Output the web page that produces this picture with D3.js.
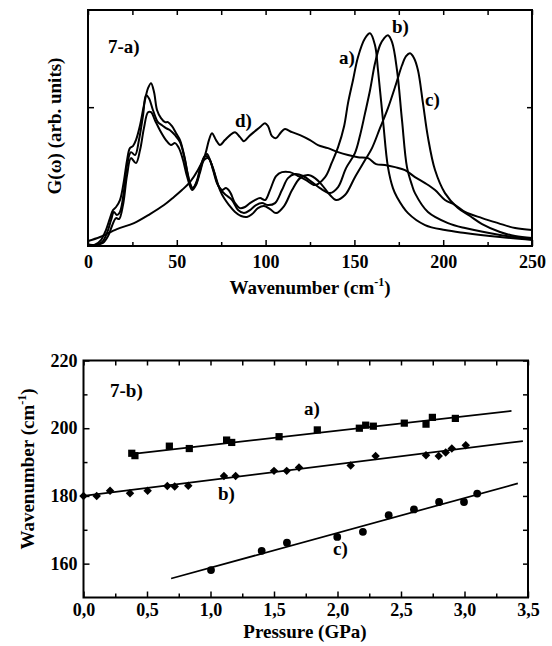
<!DOCTYPE html>
<html>
<head>
<meta charset="utf-8">
<script src="https://cdn.jsdelivr.net/npm/d3@7"></script>
<style>
  body { margin: 0; background: #fff; }
  svg { display: block; }
  text { font-family: "Liberation Serif", "Times New Roman", serif; font-weight: bold; fill: #000; }
</style>
</head>
<body>
<div id="chart"></div>
<script>
// ---- panel 7-a : G(w) curves, [wavenumber, G] pairs
const curveA = [[0,0.01],[3.9,0.01],[7.3,0.043],[10.1,0.115],[12.4,0.201],[14.1,0.259],[15.8,0.281],[18,0.331],[20.3,0.475],[22,0.619],[23.6,0.705],[25.3,0.719],[27,0.763],[29.3,0.87],[31.5,1.014],[33.8,1.137],[35.5,1.173],[37.2,1.108],[38.9,0.978],[41.1,0.921],[43.4,0.892],[45,0.892],[47.3,0.863],[49.6,0.813],[51.8,0.763],[54.1,0.655],[56.3,0.511],[58.6,0.417],[60.8,0.446],[63.1,0.547],[65.3,0.633],[67,0.662],[68.7,0.619],[71,0.532],[73.2,0.439],[75.5,0.403],[77.7,0.417],[80,0.388],[82.8,0.309],[85.6,0.273],[88.4,0.281],[91.2,0.309],[94,0.331],[96.9,0.345],[99.7,0.331],[102.5,0.403],[105.9,0.504],[109.2,0.532],[113.7,0.532],[118.3,0.504],[122.8,0.475],[127.8,0.439],[133.5,0.496],[137.4,0.604],[140.8,0.712],[144.2,0.863],[146.4,1.029],[149.2,1.194],[152,1.36],[156,1.496],[158.8,1.532],[161.6,1.446],[163.3,1.266],[166.1,0.906],[168.9,0.568],[171.7,0.417],[174,0.352],[180.2,0.237],[189.8,0.151],[201,0.115],[212.3,0.094],[232,0.065],[250,0.043]];
const curveB = [[0,0.007],[3.9,0.007],[7.9,0.029],[10.7,0.094],[13,0.187],[14.6,0.245],[16.3,0.223],[18,0.245],[20.3,0.403],[22,0.583],[24.2,0.676],[26.5,0.655],[28.7,0.763],[31,0.942],[32.7,1.086],[34.3,1.065],[36.6,0.978],[39.4,0.892],[41.7,0.87],[43.9,0.849],[46.2,0.834],[49,0.798],[51.8,0.748],[54.6,0.619],[56.9,0.475],[59.1,0.417],[61.4,0.475],[63.6,0.583],[65.9,0.647],[68.1,0.633],[70.4,0.547],[72.6,0.453],[74.9,0.403],[77.7,0.367],[81.1,0.331],[84.5,0.259],[87.8,0.237],[91.2,0.259],[94.6,0.295],[98,0.309],[101.4,0.295],[105.3,0.309],[109.2,0.403],[112.6,0.489],[116.6,0.518],[121.1,0.504],[126.1,0.46],[130.6,0.417],[136.3,0.381],[140.8,0.424],[145.3,0.561],[150.3,0.669],[153.2,0.798],[156,0.957],[158.8,1.122],[161.6,1.316],[164.4,1.446],[166.7,1.496],[168.9,1.518],[171.2,1.468],[174,1.266],[176.8,0.906],[179.6,0.568],[182.4,0.439],[184.1,0.381],[191.4,0.245],[202.7,0.165],[212.3,0.129],[232,0.079],[250,0.05]];
const curveC = [[0,0],[4.5,0.007],[8.4,0.022],[11.3,0.072],[13.5,0.144],[15.8,0.201],[17.5,0.194],[19.7,0.295],[22,0.511],[24.2,0.633],[27,0.597],[29.3,0.691],[31.5,0.849],[33.8,0.964],[35.5,0.964],[37.7,0.906],[40.5,0.834],[43.9,0.763],[46.7,0.727],[49,0.741],[51.2,0.705],[53.5,0.619],[55.7,0.504],[58.6,0.403],[60.8,0.439],[63.1,0.532],[65.3,0.619],[67.6,0.633],[69.8,0.583],[72.1,0.489],[74.3,0.403],[76.6,0.345],[79.4,0.295],[82.8,0.245],[86.2,0.216],[89.5,0.209],[92.4,0.23],[95.7,0.273],[99.1,0.288],[102.5,0.266],[105.9,0.237],[110.4,0.288],[114.9,0.403],[119.4,0.489],[123.9,0.511],[127.8,0.489],[131.8,0.439],[136.3,0.367],[139.7,0.331],[144.7,0.367],[150.3,0.496],[156,0.619],[159.9,0.705],[164.4,0.849],[168.9,0.993],[173.4,1.165],[176.8,1.302],[179.1,1.367],[181.3,1.388],[183.6,1.353],[185.8,1.266],[188.6,1.029],[191.4,0.784],[195.4,0.547],[201,0.381],[208.3,0.273],[215.1,0.216],[221.9,0.158],[232,0.101],[240.5,0.072],[250,0.058]];
const curveD = [[0,0.036],[6.8,0.065],[16.3,0.122],[25.9,0.165],[34.9,0.23],[42.8,0.295],[48.4,0.353],[52.9,0.403],[57.4,0.46],[61.9,0.547],[65.9,0.655],[68.1,0.763],[69.8,0.813],[72.1,0.763],[74.3,0.727],[77.1,0.763],[80,0.799],[82.8,0.82],[85.6,0.784],[87.8,0.755],[90.7,0.791],[94,0.827],[97.4,0.863],[99.7,0.885],[101.4,0.863],[103.6,0.791],[105.9,0.777],[108.7,0.82],[110.9,0.842],[114.9,0.82],[119.4,0.799],[125,0.763],[129.5,0.727],[135.1,0.705],[140.8,0.676],[146.4,0.655],[152,0.64],[157.7,0.633],[162.2,0.59],[167.2,0.583],[172.9,0.568],[178.5,0.547],[184.1,0.496],[189.8,0.453],[195.4,0.403],[201,0.331],[206.7,0.295],[212.3,0.245],[221.9,0.201],[230.9,0.165],[240.5,0.129],[250,0.115]];
const topXTicks = [0, 50, 100, 150, 200, 250];
const topXMinor = [25, 75, 125, 175, 225];
const topYTicks = [1];

// ---- panel 7-b : mode frequency vs pressure
const pressA = [0.38, 0.405, 0.676, 0.833, 1.127, 1.167, 1.54, 1.841, 2.172, 2.222, 2.282, 2.526, 2.697, 2.747, 2.928];
const waveA  = [192.6, 191.9, 194.7, 194.0, 196.5, 195.8, 197.5, 199.5, 200.0, 200.9, 200.6, 201.5, 201.2, 203.2, 202.9];
const pressB = [0.0, 0.104, 0.209, 0.366, 0.505, 0.66, 0.718, 0.825, 1.106, 1.198, 1.5, 1.6, 1.697, 2.104, 2.30, 2.697, 2.797, 2.852, 2.90, 3.01];
const waveB  = [180.0, 180.0, 181.5, 180.8, 181.5, 182.9, 182.8, 183.0, 185.9, 185.9, 187.4, 187.4, 188.4, 189.0, 191.8, 192.0, 191.8, 192.8, 194.0, 195.0];
const pressC = [1.004, 1.403, 1.602, 1.998, 2.20, 2.403, 2.602, 2.80, 2.996, 3.10];
const waveC  = [158.1, 163.8, 166.2, 167.9, 169.4, 174.3, 176.0, 178.2, 178.2, 180.7];
// linear fits (end points)
const fitA = [[0.39, 192.4], [3.37, 205.1]];
const fitB = [[0.0, 180.0], [3.46, 196.2]];
const fitC = [[0.69, 155.6], [3.42, 183.7]];
const botXTicks = [0, 0.5, 1, 1.5, 2, 2.5, 3, 3.5];
const botXMinor = [0.25, 0.75, 1.25, 1.75, 2.25, 2.75, 3.25];
const botYTicks = [160, 180, 200, 220];
const botYMinor = [170, 190, 210];

const svg = d3.select("#chart").append("svg")
    .attr("width", 552)
    .attr("height", 646);

// helper: frame + inward ticks on all four sides
function frame(g, x, y, xt, xm, yt, ym, fmtX, fmtY, padX) {
    const [x0, x1] = x.range();
    const [y0, y1] = y.range();
    const styl = s => s.call(a => a.select(".domain").remove())
        .call(a => a.selectAll("line").attr("stroke", "#000").attr("stroke-width", 1.5))
        .call(a => a.selectAll("text").attr("font-size", 18)
            .attr("font-family", "Liberation Serif, Times New Roman, serif")
            .attr("font-weight", "bold"));

    g.append("g").attr("transform", `translate(0,${y0})`)
        .call(d3.axisBottom(x).tickValues(xt).tickSizeInner(-6).tickSizeOuter(0).tickPadding(padX).tickFormat(fmtX)).call(styl);
    g.append("g").attr("transform", `translate(0,${y0})`)
        .call(d3.axisBottom(x).tickValues(xm).tickSizeInner(-4).tickSizeOuter(0).tickFormat("")).call(styl);
    g.append("g").attr("transform", `translate(0,${y1})`)
        .call(d3.axisTop(x).tickValues(xt.concat(xm)).tickSizeInner(-5).tickSizeOuter(0).tickFormat("")).call(styl);

    g.append("g").attr("transform", `translate(${x0},0)`)
        .call(d3.axisLeft(y).tickValues(yt).tickSizeInner(-6).tickSizeOuter(0).tickPadding(6).tickFormat(fmtY)).call(styl);
    g.append("g").attr("transform", `translate(${x0},0)`)
        .call(d3.axisLeft(y).tickValues(ym).tickSizeInner(-4).tickSizeOuter(0).tickFormat("")).call(styl);
    g.append("g").attr("transform", `translate(${x1},0)`)
        .call(d3.axisRight(y).tickValues(yt.concat(ym)).tickSizeInner(-5).tickSizeOuter(0).tickFormat("")).call(styl);

    g.append("rect")
        .attr("x", x0).attr("y", y1)
        .attr("width", x1 - x0).attr("height", y0 - y1)
        .attr("fill", "none").attr("stroke", "#000").attr("stroke-width", 2);
}

// ================= panel 7-a =================
const xTop = d3.scaleLinear().domain([0, 250]).range([88, 532]);
const yTop = d3.scaleLinear().domain([0, 1.7]).range([246, 10]);
const gTop = svg.append("g");

const line = d3.line()
    .x(d => xTop(d[0]))
    .y(d => yTop(d[1]))
    .curve(d3.curveCatmullRom.alpha(0.5));

[curveD, curveA, curveB, curveC].forEach(c => {
    gTop.append("path")
        .attr("d", line(c))
        .attr("fill", "none")
        .attr("stroke", "#000")
        .attr("stroke-width", 2)
        .attr("stroke-linejoin", "round");
});

frame(gTop, xTop, yTop, topXTicks, topXMinor, topYTicks, [], d3.format("d"), () => "", 9);

gTop.append("text").attr("x", 108).attr("y", 53).attr("font-size", 19).text("7-a)");
gTop.append("text").attr("x", 339).attr("y", 64).attr("font-size", 19).text("a)");
gTop.append("text").attr("x", 392).attr("y", 33).attr("font-size", 19).text("b)");
gTop.append("text").attr("x", 425).attr("y", 106).attr("font-size", 19).text("c)");
gTop.append("text").attr("x", 235).attr("y", 127).attr("font-size", 19).text("d)");

const tTitle = gTop.append("text")
    .attr("x", 310).attr("y", 294)
    .attr("text-anchor", "middle")
    .attr("font-size", 19);
tTitle.append("tspan").text("Wavenumber (cm");
tTitle.append("tspan").attr("font-size", 12).attr("dy", -8).text("-1");
tTitle.append("tspan").attr("dy", 8).text(")");

gTop.append("text")
    .attr("transform", "translate(61,126) rotate(-90)")
    .attr("text-anchor", "middle")
    .attr("font-size", 19)
    .text("G(\u03C9) (arb. units)");

// ================= panel 7-b =================
const xBot = d3.scaleLinear().domain([0, 3.5]).range([83.5, 528]);
const yBot = d3.scaleLinear().domain([150, 220]).range([597.5, 360.5]);
const gBot = svg.append("g");

const comma = d => d3.format(".1f")(d).replace(".", ",");

const fitLine = d3.line().x(d => xBot(d[0])).y(d => yBot(d[1]));
[fitA, fitB, fitC].forEach(f => {
    gBot.append("path")
        .attr("d", fitLine(f))
        .attr("fill", "none")
        .attr("stroke", "#000")
        .attr("stroke-width", 1.7);
});

const sq = d3.symbol().type(d3.symbolSquare).size(52);
gBot.selectAll(".sq").data(pressA.map((p, i) => [p, waveA[i]]))
    .join("path")
    .attr("transform", d => `translate(${xBot(d[0])},${yBot(d[1])})`)
    .attr("d", sq());

const dm = d3.symbol().type(d3.symbolSquare).size(36);
gBot.selectAll(".dm").data(pressB.map((p, i) => [p, waveB[i]]))
    .join("path")
    .attr("transform", d => `translate(${xBot(d[0])},${yBot(d[1])}) rotate(45)`)
    .attr("d", dm());

gBot.selectAll(".ci").data(pressC.map((p, i) => [p, waveC[i]]))
    .join("circle")
    .attr("cx", d => xBot(d[0]))
    .attr("cy", d => yBot(d[1]))
    .attr("r", 3.9);

frame(gBot, xBot, yBot, botXTicks, botXMinor, botYTicks, botYMinor, comma, d3.format("d"), 6);

gBot.append("text").attr("x", 110).attr("y", 397).attr("font-size", 19).text("7-b)");
gBot.append("text").attr("x", 304).attr("y", 415).attr("font-size", 19).text("a)");
gBot.append("text").attr("x", 218).attr("y", 500).attr("font-size", 19).text("b)");
gBot.append("text").attr("x", 333).attr("y", 555).attr("font-size", 19).text("c)");

gBot.append("text")
    .attr("x", 305).attr("y", 638)
    .attr("text-anchor", "middle")
    .attr("font-size", 19)
    .text("Pressure (GPa)");

const bY = gBot.append("text")
    .attr("transform", "translate(34,469) rotate(-90)")
    .attr("text-anchor", "middle")
    .attr("font-size", 19);
bY.append("tspan").text("Wavenumber (cm");
bY.append("tspan").attr("font-size", 12).attr("dy", -8).text("-1");
bY.append("tspan").attr("dy", 8).text(")");
</script>
</body>
</html>
